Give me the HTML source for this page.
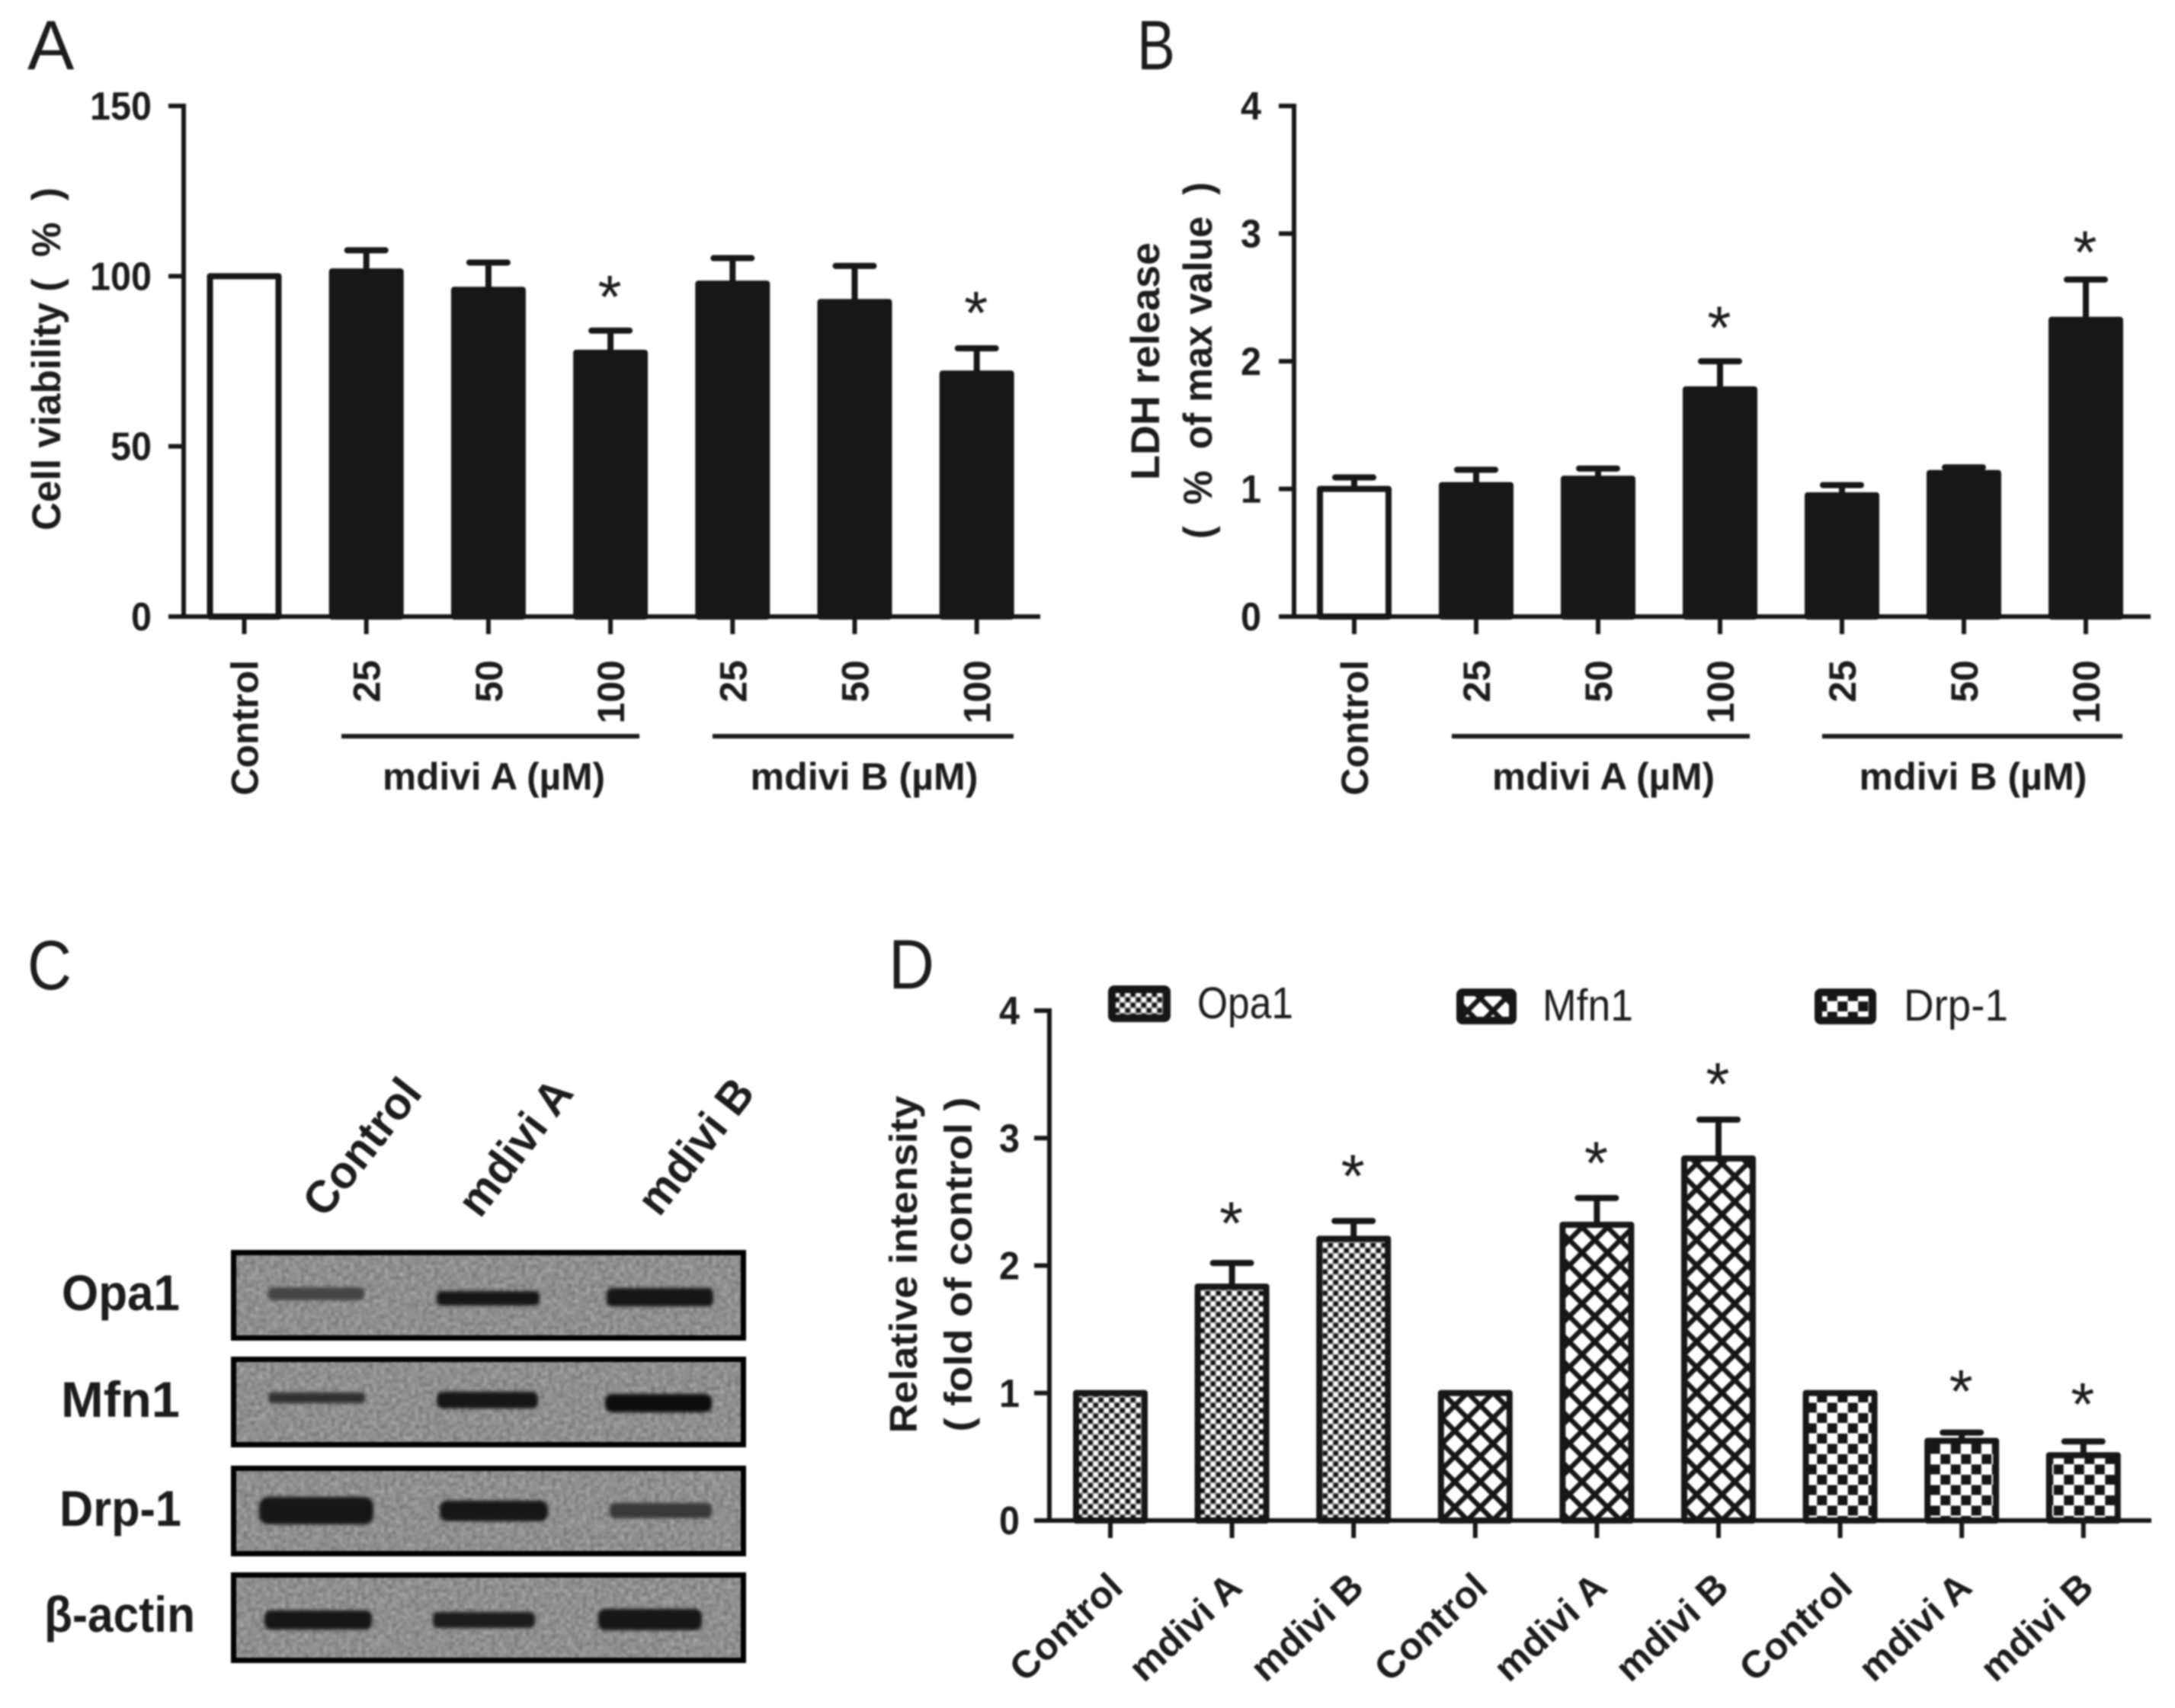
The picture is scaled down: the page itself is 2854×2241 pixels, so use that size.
<!DOCTYPE html>
<html lang="en">
<head>
<meta charset="utf-8">
<title>Mdivi cell viability, LDH release and mitochondrial protein expression</title>
<style>
  html, body { margin: 0; padding: 0; background: #ffffff; }
  svg { display: block; filter: blur(1px); }
  text { font-family: "Liberation Sans", "DejaVu Sans", sans-serif; fill: #1c1c1c; }
  .bold { font-weight: 700; }
</style>
</head>
<body>
<svg id="figure" xmlns="http://www.w3.org/2000/svg" width="2854" height="2241" viewBox="0 0 2854 2241">
  <defs>
    <pattern id="fill-opa" width="14" height="14" patternUnits="userSpaceOnUse">
      <rect width="14" height="14" fill="#9a9a9a"/>
      <rect x="0" y="0" width="5.5" height="5.5" fill="#111"/>
      <rect x="7" y="7" width="5.5" height="5.5" fill="#111"/>
      <rect x="7" y="0" width="5.5" height="5.5" fill="#fff"/>
      <rect x="0" y="7" width="5.5" height="5.5" fill="#fff"/>
    </pattern>
    <pattern id="fill-mfn" width="33.4" height="33.4" patternUnits="userSpaceOnUse" patternTransform="translate(1925.7 1860.7)">
      <rect width="33.4" height="33.4" fill="#fff"/>
      <path d="M0 0L33.4 33.4M0 33.4L33.4 0" stroke="#161616" stroke-width="6.5" fill="none"/>
    </pattern>
    <pattern id="fill-drp" width="27" height="27" patternUnits="userSpaceOnUse" patternTransform="translate(2397.8 1840.5)">
      <rect width="27" height="27" fill="#fff"/>
      <rect x="0" y="0" width="13" height="13" fill="#161616"/>
      <rect x="13.5" y="13.5" width="13" height="13" fill="#161616"/>
    </pattern>
    <filter id="blot-noise" x="0" y="0" width="100%" height="100%" color-interpolation-filters="sRGB">
      <feTurbulence type="fractalNoise" baseFrequency="0.2" numOctaves="2" seed="4"/>
      <feColorMatrix values=".4 0 0 0 .36  .4 0 0 0 .36  .4 0 0 0 .36  0 0 0 0 1"/>
      <feGaussianBlur stdDeviation="1.2"/>
    </filter>
    <filter id="band-blur" x="-20%" y="-60%" width="140%" height="220%">
      <feGaussianBlur stdDeviation="2.2"/>
    </filter>
  </defs>

  <!-- Panel letters -->
  <text x="36" y="91" font-size="92">A</text>
  <text x="1492" y="91" font-size="92" textLength="50" lengthAdjust="spacingAndGlyphs">B</text>
  <text x="36" y="1298" font-size="92" textLength="58" lengthAdjust="spacingAndGlyphs">C</text>
  <text x="1166" y="1297" font-size="92" textLength="60" lengthAdjust="spacingAndGlyphs">D</text>

  <!-- Panel A titles and groups -->
  <text class="bold" transform="translate(79 471) rotate(-90)" text-anchor="middle" font-size="53" textLength="450" lengthAdjust="spacingAndGlyphs" xml:space="preserve">Cell viability (  %  )</text>
  <line x1="448" x2="839" y1="966" y2="966" stroke="#1a1a1a" stroke-width="6"/>
  <line x1="935" x2="1330" y1="966" y2="966" stroke="#1a1a1a" stroke-width="6"/>
  <text class="bold" x="648" y="1036" text-anchor="middle" font-size="50" textLength="292" lengthAdjust="spacingAndGlyphs">mdivi A (µM)</text>
  <text class="bold" x="1134" y="1036" text-anchor="middle" font-size="50" textLength="299" lengthAdjust="spacingAndGlyphs">mdivi B (µM)</text>

  <!-- Panel B titles and groups -->
  <text class="bold" transform="translate(1521 474) rotate(-90)" text-anchor="middle" font-size="53" textLength="312" lengthAdjust="spacingAndGlyphs">LDH release</text>
  <text class="bold" transform="translate(1590 473) rotate(-90)" text-anchor="middle" font-size="53" textLength="468" lengthAdjust="spacingAndGlyphs" xml:space="preserve">(  %  of max value  )</text>
  <line x1="1905" x2="2296" y1="966" y2="966" stroke="#1a1a1a" stroke-width="6"/>
  <line x1="2391" x2="2785" y1="966" y2="966" stroke="#1a1a1a" stroke-width="6"/>
  <text class="bold" x="2104" y="1036" text-anchor="middle" font-size="50" textLength="292" lengthAdjust="spacingAndGlyphs">mdivi A (µM)</text>
  <text class="bold" x="2589" y="1036" text-anchor="middle" font-size="50" textLength="299" lengthAdjust="spacingAndGlyphs">mdivi B (µM)</text>

  <!-- Panel C western blot -->
  <g>
    <text class="bold" transform="translate(426 1600) rotate(-51.8)" font-size="60" textLength="210" lengthAdjust="spacingAndGlyphs">Control</text>
    <text class="bold" transform="translate(630 1600) rotate(-53)" font-size="60" textLength="207" lengthAdjust="spacingAndGlyphs">mdivi A</text>
    <text class="bold" transform="translate(865 1598) rotate(-52)" font-size="60" textLength="207" lengthAdjust="spacingAndGlyphs">mdivi B</text>

    <text class="bold" x="81" y="1719" font-size="66" textLength="155" lengthAdjust="spacingAndGlyphs">Opa1</text>
    <text class="bold" x="80" y="1859" font-size="66" textLength="156" lengthAdjust="spacingAndGlyphs">Mfn1</text>
    <text class="bold" x="78" y="2002" font-size="66" textLength="160" lengthAdjust="spacingAndGlyphs">Drp-1</text>
    <text class="bold" x="58" y="2141" font-size="66" textLength="198" lengthAdjust="spacingAndGlyphs">β-actin</text>

    <g>
      <rect x="303" y="1640" width="676" height="119" filter="url(#blot-noise)"/>
      <rect x="352" y="1689" width="126" height="17" rx="6" fill="#454545" filter="url(#band-blur)"/>
      <rect x="573" y="1694" width="135" height="19" rx="6" fill="#181818" filter="url(#band-blur)"/>
      <rect x="796" y="1690" width="140" height="24" rx="7" fill="#141414" filter="url(#band-blur)"/>
      <rect x="306.5" y="1643.5" width="669" height="112" fill="none" stroke="#000" stroke-width="7"/>
    </g>
    <g>
      <rect x="303" y="1780" width="676" height="119" filter="url(#blot-noise)"/>
      <rect x="352" y="1827" width="127" height="14" rx="5" fill="#333" filter="url(#band-blur)"/>
      <rect x="573" y="1826" width="133" height="22" rx="8" fill="#141414" filter="url(#band-blur)"/>
      <rect x="794" y="1829" width="140" height="24" rx="9" fill="#101010" filter="url(#band-blur)"/>
      <rect x="306.5" y="1783.5" width="669" height="112" fill="none" stroke="#000" stroke-width="7"/>
    </g>
    <g>
      <rect x="303" y="1923" width="676" height="119" filter="url(#blot-noise)"/>
      <rect x="340" y="1964" width="150" height="36" rx="12" fill="#181818" filter="url(#band-blur)"/>
      <rect x="577" y="1969" width="142" height="27" rx="10" fill="#161616" filter="url(#band-blur)"/>
      <rect x="800" y="1972" width="134" height="20" rx="7" fill="#383838" filter="url(#band-blur)"/>
      <rect x="306.5" y="1926.5" width="669" height="112" fill="none" stroke="#000" stroke-width="7"/>
    </g>
    <g>
      <rect x="303" y="2063" width="676" height="119" filter="url(#blot-noise)"/>
      <rect x="347" y="2113" width="141" height="25" rx="8" fill="#151515" filter="url(#band-blur)"/>
      <rect x="568" y="2115" width="134" height="21" rx="7" fill="#1c1c1c" filter="url(#band-blur)"/>
      <rect x="785" y="2111" width="136" height="28" rx="9" fill="#121212" filter="url(#band-blur)"/>
      <rect x="306.5" y="2066.5" width="669" height="112" fill="none" stroke="#000" stroke-width="7"/>
    </g>
  </g>

  <!-- Panel D titles and legend -->
  <text class="bold" transform="translate(1203 1659) rotate(-90)" text-anchor="middle" font-size="51" textLength="443" lengthAdjust="spacingAndGlyphs">Relative intensity</text>
  <text class="bold" transform="translate(1275 1659) rotate(-90)" text-anchor="middle" font-size="51" textLength="439" lengthAdjust="spacingAndGlyphs">( fold of control )</text>

  <g>
    <rect x="1459" y="1298" width="72" height="38" rx="3" fill="url(#fill-opa)" stroke="#161616" stroke-width="10"/>
    <text x="1571" y="1336" font-size="58" textLength="126" lengthAdjust="spacingAndGlyphs">Opa1</text>
  </g>
  <g>
    <rect x="1916" y="1302" width="69" height="37" rx="3" fill="url(#fill-mfn)" stroke="#161616" stroke-width="10"/>
    <text x="2024" y="1339" font-size="58" textLength="119" lengthAdjust="spacingAndGlyphs">Mfn1</text>
  </g>
  <g>
    <rect x="2386" y="1302" width="71" height="37" rx="3" fill="url(#fill-drp)" stroke="#161616" stroke-width="10"/>
    <text x="2498" y="1339" font-size="58" textLength="137" lengthAdjust="spacingAndGlyphs">Drp-1</text>
  </g>

  <g id="panel-a"></g>
  <g id="panel-b"></g>
  <g id="panel-d"></g>
</svg>

<script>
// ---------- Chart data ----------
const doseCategories = ['Control', '25', '50', '100', '25', '50', '100'];

const viabilityValues = [100, 101.4, 96, 77.5, 97.8, 92.4, 71.4];
const viabilityErrors = [0, 6.2, 8, 6.5, 7.5, 10.6, 7.4];
const viabilityStars = [null, null, null, 96, null, null, 91.3];
const viabilityTicks = [0, 50, 100, 150];

const ldhValues = [1, 1.03, 1.08, 1.78, 0.95, 1.125, 2.325];
const ldhErrors = [0.09, 0.12, 0.08, 0.22, 0.08, 0.044, 0.315];
const ldhStars = [null, null, null, 2.32, null, null, 2.91];
const ldhTicks = [0, 1, 2, 3, 4];

const intensityCategories = ['Control', 'mdivi A', 'mdivi B', 'Control', 'mdivi A', 'mdivi B', 'Control', 'mdivi A', 'mdivi B'];
const intensityValues = [1, 1.835, 2.21, 1, 2.32, 2.84, 1, 0.625, 0.512];
const intensityErrors = [0, 0.185, 0.14, 0, 0.21, 0.305, 0, 0.065, 0.108];
const intensityStars = [null, 2.39, 2.76, null, 2.86, 3.48, null, 1.07, 0.97];
const intensityTicks = [0, 1, 2, 3, 4];
const intensitySeries = ['Opa1', 'Opa1', 'Opa1', 'Mfn1', 'Mfn1', 'Mfn1', 'Drp-1', 'Drp-1', 'Drp-1'];

// ---------- Drawing ----------
const SVG_NS = 'http://www.w3.org/2000/svg';
const INK = '#171717';

function mk(parent, tag, attrs, text) {
  const node = document.createElementNS(SVG_NS, tag);
  for (const key in attrs) node.setAttribute(key, attrs[key]);
  if (text !== undefined) node.textContent = text;
  parent.appendChild(node);
  return node;
}

function drawPanel(opts) {
  const root = document.getElementById(opts.id);
  const yScale = v => opts.baseY - (v / opts.yMax) * (opts.baseY - opts.topY);
  const xScale = i => opts.firstX + i * opts.stepX;

  // bars, error bars, significance stars
  opts.values.forEach((value, i) => {
    const cx = xScale(i);
    const topOfBar = yScale(value);

    if (opts.errors[i] > 0) {
      const errTop = yScale(value + opts.errors[i]);
      const stem = mk(root, 'line', { x1: cx, x2: cx, y1: topOfBar, y2: errTop, stroke: INK, 'stroke-width': 8 });
      
      
      const cap = mk(root, 'line', { x1: cx - 25, x2: cx + 25, y1: errTop, y2: errTop, stroke: INK, 'stroke-width': 8, 'stroke-linecap': 'round' });
      
      
    }

    const bar = mk(root, 'rect', {
      x: cx - 45, y: topOfBar, width: 90, height: opts.baseY - topOfBar,
      fill: opts.fillFor(i), stroke: INK, 'stroke-width': 8, 'stroke-linejoin': 'round'
    });
    
    

    if (opts.stars[i] !== null) {
      const star = mk(root, 'text', { x: cx - 1, y: yScale(opts.stars[i]) + 37, 'text-anchor': 'middle', 'font-size': 80 }, '*');
      
      
    }
  });

  // axes
  const yAxis = mk(root, 'line', { x1: opts.axisX, x2: opts.axisX, y1: opts.topY - 3, y2: opts.baseY + 3, stroke: INK, 'stroke-width': 6 });
  
  
  const xAxis = mk(root, 'line', { x1: opts.axisX - 20, x2: opts.axisEnd, y1: opts.baseY, y2: opts.baseY, stroke: INK, 'stroke-width': 6 });
  
  

  opts.ticks.forEach(tick => {
    const y = yScale(tick);
    const mark = mk(root, 'line', { x1: opts.axisX - 20, x2: opts.axisX, y1: y, y2: y, stroke: INK, 'stroke-width': 6 });
    
    
    const label = String(tick);
    const tickLabel = mk(root, 'text', {
      x: opts.labelRight, y: y + 18, 'text-anchor': 'end', 'font-size': 52, 'font-weight': 700,
      textLength: label.length * 27, lengthAdjust: 'spacingAndGlyphs'
    }, label);
    
    
  });

  opts.categories.forEach((category, i) => {
    const cx = xScale(i);
    const mark = mk(root, 'line', { x1: cx, x2: cx, y1: opts.baseY, y2: opts.baseY + 23, stroke: INK, 'stroke-width': 6 });
    
    
    const tickLabel = mk(root, 'text', opts.xLabelAttrs(cx, category), category);
    
    
  });
}

function verticalLabel(cx, category) {
  return {
    transform: 'translate(' + (cx + 18) + ' 866) rotate(-90)',
    'text-anchor': 'end', 'font-size': 50, 'font-weight': 700
  };
}

function slantedLabel(cx, category) {
  const shift = category === 'Control' ? 19 : 16;
  return {
    transform: 'translate(' + (cx + shift) + ' 2086) rotate(-43)',
    'text-anchor': 'end', 'font-size': 50, 'font-weight': 700,
    textLength: 180, lengthAdjust: 'spacingAndGlyphs'
  };
}

drawPanel({
  id: 'panel-a', categories: doseCategories, values: viabilityValues, errors: viabilityErrors,
  stars: viabilityStars, ticks: viabilityTicks, yMax: 150,
  topY: 139, baseY: 809, axisX: 241, axisEnd: 1365, labelRight: 199, firstX: 320.5, stepX: 160.2,
  fillFor: i => (i === 0 ? '#ffffff' : INK), xLabelAttrs: verticalLabel
});

drawPanel({
  id: 'panel-b', categories: doseCategories, values: ldhValues, errors: ldhErrors,
  stars: ldhStars, ticks: ldhTicks, yMax: 4,
  topY: 139, baseY: 809, axisX: 1698, axisEnd: 2822, labelRight: 1655, firstX: 1777, stepX: 160,
  fillFor: i => (i === 0 ? '#ffffff' : INK), xLabelAttrs: verticalLabel
});

drawPanel({
  id: 'panel-d', categories: intensityCategories, values: intensityValues, errors: intensityErrors,
  stars: intensityStars, ticks: intensityTicks, yMax: 4,
  topY: 1326, baseY: 1995, axisX: 1377, axisEnd: 2823, labelRight: 1338, firstX: 1457, stepX: 159.6,
  fillFor: i => ({ 'Opa1': 'url(#fill-opa)', 'Mfn1': 'url(#fill-mfn)', 'Drp-1': 'url(#fill-drp)' })[intensitySeries[i]],
  xLabelAttrs: slantedLabel
});
</script>
</body>
</html>
